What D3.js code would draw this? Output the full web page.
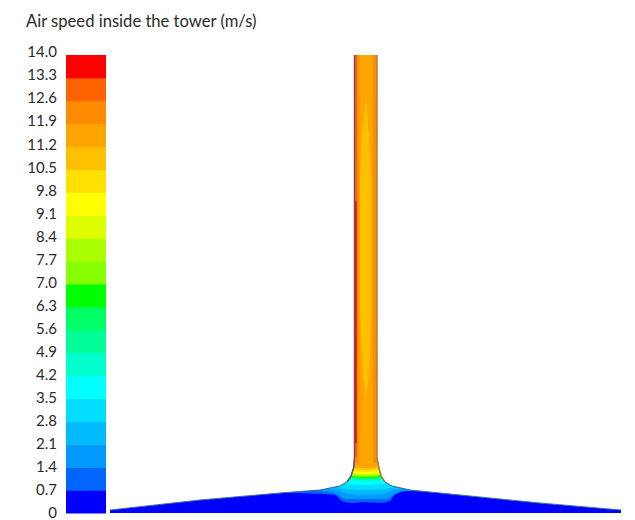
<!DOCTYPE html>
<html>
<head>
<meta charset="utf-8">
<script src="https://cdn.jsdelivr.net/npm/d3@7"></script>
<style>
  html, body { margin: 0; padding: 0; background: #fff; }
  text { font-family: Lato, "Open Sans", sans-serif; fill: #2b2b2b; }
</style>
</head>
<body>
<div id="chart"></div>
<script>
// colour legend: speed (m/s), one colour per 0.7 band, low to high
const tickValues = [0, 0.7, 1.4, 2.1, 2.8, 3.5, 4.2, 4.9, 5.6, 6.3, 7.0, 7.7, 8.4, 9.1, 9.8, 10.5, 11.2, 11.9, 12.6, 13.3, 14.0];
const tickLabels = ["0", "0.7", "1.4", "2.1", "2.8", "3.5", "4.2", "4.9", "5.6", "6.3", "7.0", "7.7", "8.4", "9.1", "9.8", "10.5", "11.2", "11.9", "12.6", "13.3", "14.0"];
const bandColors = ["#0000ff", "#0066ff", "#0099ff", "#00bbff", "#00ddff", "#00ffff", "#00ffcc", "#00ff99", "#00ff66", "#00ff00",
  "#88ff00", "#aaff00", "#ddff00", "#ffff00", "#ffe000", "#ffc000", "#ffa500", "#ff8c00", "#ff6400", "#ff0000"];

// flow domain outline, [radius, height]
const outline = [[-128, 0], [-128, 1.5], [-83, 6.5], [-43, 10], [-23, 11.5], [-13, 13.5], [-9.5, 15.5], [-7.5, 18.5], [-6.2, 22.5], [-5.75, 27.5], [-5.75, 229],
  [5.5, 229], [5.5, 27.5], [6.5, 22.5], [7.5, 18.5], [9.5, 15.5], [13, 13.5], [22, 11.5], [42, 9.5], [87, 5], [127.5, 1.5], [127.5, 0]];

// lower edge of each speed contour, everything above it is faster
const contourLevels = [0.7, 1.4, 2.1, 2.8, 3.5, 4.2, 4.9, 5.6, 6.3, 7.0, 7.7, 8.4, 9.1, 9.8, 10.5, 11.2];
const contourLines = [
  [[-58, 9.5], [-40.5, 10], [-15.5, 9], [-12, 6], [-7, 5], [0, 5.5], [7, 5], [12, 6], [15, 10], [19.5, 11], [42, 9.5], [62, 8]],
  [[-33, 11.5], [-18, 10.5], [-14, 9], [-10, 7], [0, 7], [10, 7], [14, 9], [19.5, 11], [30, 11]],
  [[-22, 12.5], [-13, 11], [-9, 9.5], [0, 9], [9, 9.5], [13, 11], [21, 12.5]],
  [[-16, 14], [-10, 12], [0, 11.5], [10, 12], [16, 14]],
  [[-12, 15], [0, 14], [12, 15]],
  [[-10, 16.5], [0, 16], [10, 16.5]],
  [[-10, 17.5], [0, 16.5], [10, 17.5]],
  [[-10, 18], [0, 17], [10, 18]],
  [[-10, 18.5], [0, 17.5], [10, 18.5]],
  [[-10, 19], [0, 18], [10, 19]],
  [[-10, 19.5], [0, 18.5], [10, 19.5]],
  [[-10, 20], [0, 19], [10, 20]],
  [[-10, 21], [0, 19.5], [10, 21]],
  [[-10, 22], [0, 20.5], [10, 22]],
  [[-10, 23], [0, 21.5], [10, 23]],
  [[-10, 24], [0, 22.5], [10, 24]]
];

// patches inside the tower, [radius, height]
const towerPatchValues = [10.8, 12.2, 12.2, 13.0, 13.6];
const towerPatches = [
  [[0, 208], [-2, 188], [-3, 166], [-3, 100], [-1.5, 70], [0, 58], [1.5, 70], [2.5, 100], [2.5, 166], [1.5, 188]],
  [[-5.75, 229], [-3.5, 229], [-3.5, 25], [-5.75, 25]],
  [[3.5, 229], [5.5, 229], [5.5, 25], [3.5, 25]],
  [[-5.75, 229], [-4.5, 229], [-4.5, 28], [-5.75, 28]],
  [[-5.5, 156], [-4.7, 156], [-4.7, 35], [-5.5, 35]]
];
const leftWall = [[-9.5, 15.5], [-7.5, 18.5], [-6.2, 22.5], [-5.75, 27.5], [-5.75, 229]];
const rightWall = [[5.5, 229], [5.5, 27.5], [6.5, 22.5], [7.5, 18.5], [9.5, 15.5]];

const width = 635, height = 520;
const svg = d3.select('#chart').append('svg')
  .attr('width', width)
  .attr('height', height)
  .style('display', 'block');

// source is a soft jpeg, take the edge off a bit
const defs = svg.append('defs');
defs.append('filter').attr('id', 'soft')
  .attr('x', '-5%').attr('y', '-5%').attr('width', '110%').attr('height', '110%')
  .append('feGaussianBlur').attr('stdDeviation', 0.7);

const x = d3.scaleLinear().domain([-128, 128]).range([110, 622]);
const y = d3.scaleLinear().domain([0, 229]).range([513, 55]);

const legendY = d3.scaleLinear().domain([0, 14]).range([513, 55]);
const labelY = d3.scaleLinear().domain([0, 14]).range([513, 52]);
const legendX = d3.scaleLinear().domain([0, 1]).range([66, 106]);
const color = d3.scaleThreshold().domain(tickValues.slice(1, -1)).range(bandColors);

// title
svg.append('text')
  .attr('x', 26)
  .attr('y', 27)
  .style('font-size', '16.6px')
  .text('Air speed inside the tower (m/s)');

// colour bar
const bar = svg.append('g').attr('filter', 'url(#soft)');
bar.selectAll('rect')
  .data(bandColors)
  .enter()
  .append('rect')
  .attr('x', legendX(0))
  .attr('width', legendX(1) - legendX(0))
  .attr('y', (d, i) => legendY(tickValues[i + 1]))
  .attr('height', (d, i) => legendY(tickValues[i]) - legendY(tickValues[i + 1]) + 0.5)
  .attr('fill', d => d);

const axis = d3.axisLeft(labelY)
  .tickValues(tickValues)
  .tickFormat((d, i) => tickLabels[i])
  .tickSize(0)
  .tickPadding(0);
const axisG = svg.append('g').attr('transform', 'translate(57,0)').call(axis);
axisG.select('.domain').remove();
axisG.selectAll('text').style('font-size', '15px').style('font-family', 'Lato, "Open Sans", sans-serif');

// contour field
const line = d3.line().x(d => x(d[0])).y(d => y(d[1]));
const area = d3.area().x(d => x(d[0])).y0(d => y(d[1])).y1(y(229)).curve(d3.curveMonotoneX);

defs.append('clipPath').attr('id', 'domain')
  .append('path').attr('d', line(outline) + 'Z');

const field = svg.append('g').attr('filter', 'url(#soft)');
const clipped = field.append('g').attr('clip-path', 'url(#domain)');

clipped.append('path')
  .attr('d', line(outline) + 'Z')
  .attr('fill', bandColors[0]);

clipped.selectAll('.contour')
  .data(contourLines)
  .enter()
  .append('path')
  .attr('class', 'contour')
  .attr('d', d => area(d))
  .attr('fill', (d, i) => color(contourLevels[i] + 0.1));

clipped.selectAll('.patch')
  .data(towerPatches)
  .enter()
  .append('path')
  .attr('class', 'patch')
  .attr('d', d => line(d) + 'Z')
  .attr('fill', (d, i) => color(towerPatchValues[i]));

// dark edge along the collector and tower walls
field.append('path')
  .attr('d', line(outline.slice(1, 10)))
  .attr('fill', 'none')
  .attr('stroke', '#3a6f94')
  .attr('stroke-width', 1);
field.append('path')
  .attr('d', line(outline.slice(12, 21)))
  .attr('fill', 'none')
  .attr('stroke', '#3a6f94')
  .attr('stroke-width', 1);
field.append('path')
  .attr('d', line(leftWall))
  .attr('fill', 'none')
  .attr('stroke', '#7a4a70')
  .attr('stroke-width', 1.5);
field.append('path')
  .attr('d', line(rightWall))
  .attr('fill', 'none')
  .attr('stroke', '#a8804a')
  .attr('stroke-width', 1.5);
</script>
</body>
</html>
